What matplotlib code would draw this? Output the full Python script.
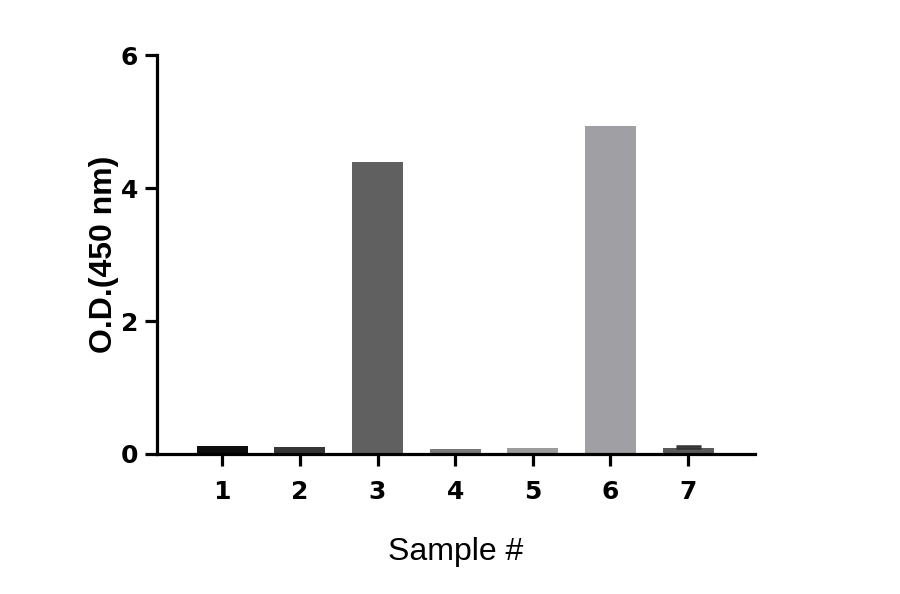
import matplotlib.pyplot as plt

samples = ['1', '2', '3', '4', '5', '6', '7']
od_450 = [0.12, 0.10, 4.39, 0.08, 0.09, 4.93, 0.085]
od_err = [0, 0, 0, 0, 0, 0, 0.035]
bar_colors = ['#0d0d0d', '#363636', '#606060', '#7a7a7a', '#9c9c9c', '#a0a0a4', '#5a5a5a']

fig = plt.figure(figsize=(9, 5.94), dpi=100)
ax = fig.add_axes([0.1744, 0.2357, 0.6644, 0.6716])

x = list(range(1, len(samples) + 1))
ax.bar(x, od_450, width=0.66, color=bar_colors)
# only sample 7 shows a visible error cap
ax.errorbar([x[6]], [od_450[6]], yerr=[[0], [od_err[6]]], fmt='none',
            ecolor='#333333', elinewidth=1.5, capsize=9, capthick=1.8)

ax.set_xlim(0.16, 7.86)
ax.set_ylim(0, 6)
ax.set_yticks([0, 2, 4, 6])
ax.set_xticks(x)
ax.set_xticklabels(samples)

for s in ['top', 'right']:
    ax.spines[s].set_visible(False)
for s in ['left', 'bottom']:
    ax.spines[s].set_linewidth(2.3)

ax.tick_params(axis='both', width=2.3, length=8.5, labelsize=18)
ax.tick_params(axis='x', pad=10)
ax.tick_params(axis='y', pad=5)
for lab in ax.get_xticklabels() + ax.get_yticklabels():
    lab.set_fontweight('bold')
    lab.set_family('DejaVu Sans')

ax.set_xlabel('Sample #', family='Liberation Sans', fontsize=23, labelpad=24)
ax.set_ylabel('O.D.(450 nm)', family='Liberation Sans', fontsize=23,
              fontweight='bold', labelpad=1)

fig.savefig('out.png', dpi=100)
